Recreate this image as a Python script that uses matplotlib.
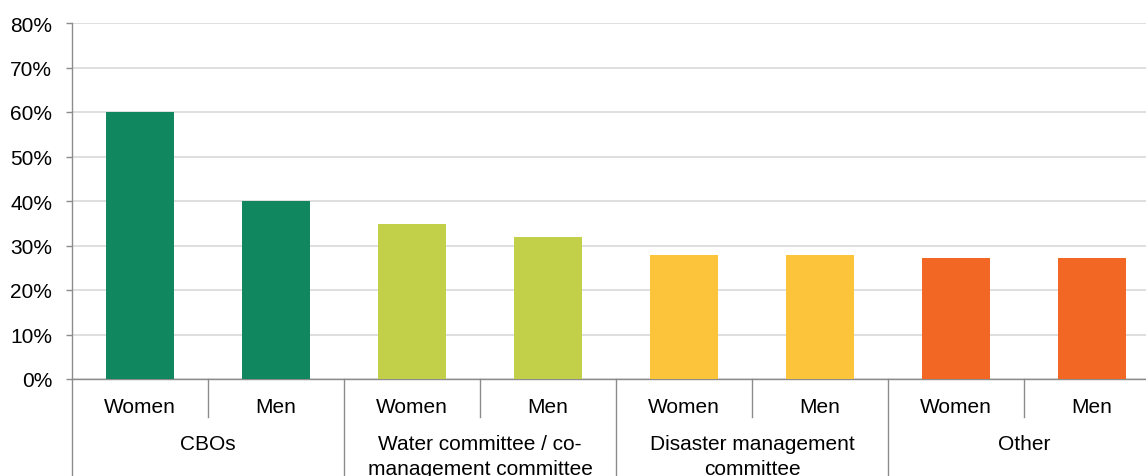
import matplotlib.pyplot as plt
import matplotlib.transforms as mtransforms

plt.rcParams['font.family'] = ['Liberation Sans', 'DejaVu Sans']

# data
groups = ['CBOs', 'Water committee / co-\nmanagement committee',
          'Disaster management\ncommittee', 'Other']
sexes = ['Women', 'Men']
women = [60.1, 34.8, 27.9, 27.1]
men = [40.1, 31.9, 27.8, 27.1]
colors = ['#10875E', '#C1D048', '#FCC43B', '#F26724']

W, H = 1146, 477
fig = plt.figure(figsize=(W / 100, H / 100), dpi=100)
# axes runs off the right edge like in the reference (cropped)
ax = fig.add_axes([72 / W, 97 / H, 8 * 136 / W, 356 / H])

vals, cols, labels = [], [], []
for i in range(len(groups)):
    vals += [women[i], men[i]]
    cols += [colors[i], colors[i]]
    labels += sexes
xs = list(range(len(vals)))

ax.bar(xs, vals, width=0.5, color=cols, zorder=3)
ax.set_xlim(-0.5, len(vals) - 0.5)
ax.set_ylim(0, 80)
ax.set_yticks(range(0, 81, 10))
ax.set_yticklabels([f'{v}%' for v in range(0, 81, 10)], fontsize=15)
ax.yaxis.grid(True, color='#D9D9D9', linewidth=1.2, zorder=0)
ax.set_xticks([])

axis_col = '#8C8C8C'
for s in ['top', 'right']:
    ax.spines[s].set_visible(False)
for s in ['left', 'bottom']:
    ax.spines[s].set_color(axis_col)
    ax.spines[s].set_linewidth(1.0)
ax.tick_params(axis='y', length=4.3, color=axis_col, width=1.0, pad=10)

# multi-level category axis
trans = mtransforms.blended_transform_factory(ax.transData, ax.transAxes)
inner_y = -38 / 356
outer_y = -100 / 356
for k in range(len(vals) + 1):
    xb = k - 0.5
    y_end = outer_y if k % 2 == 0 else inner_y
    ax.plot([xb, xb], [0, y_end], color=axis_col, lw=1.0,
            transform=trans, clip_on=False)

for x, lab in zip(xs, labels):
    ax.text(x, -28 / 356, lab, transform=trans, ha='center', va='center',
            fontsize=15)
for i, g in enumerate(groups):
    ax.text(2 * i + 0.5, -55 / 356, g, transform=trans, ha='center',
            va='top', fontsize=15, linespacing=1.42)

fig.savefig('out.png', dpi=100)
